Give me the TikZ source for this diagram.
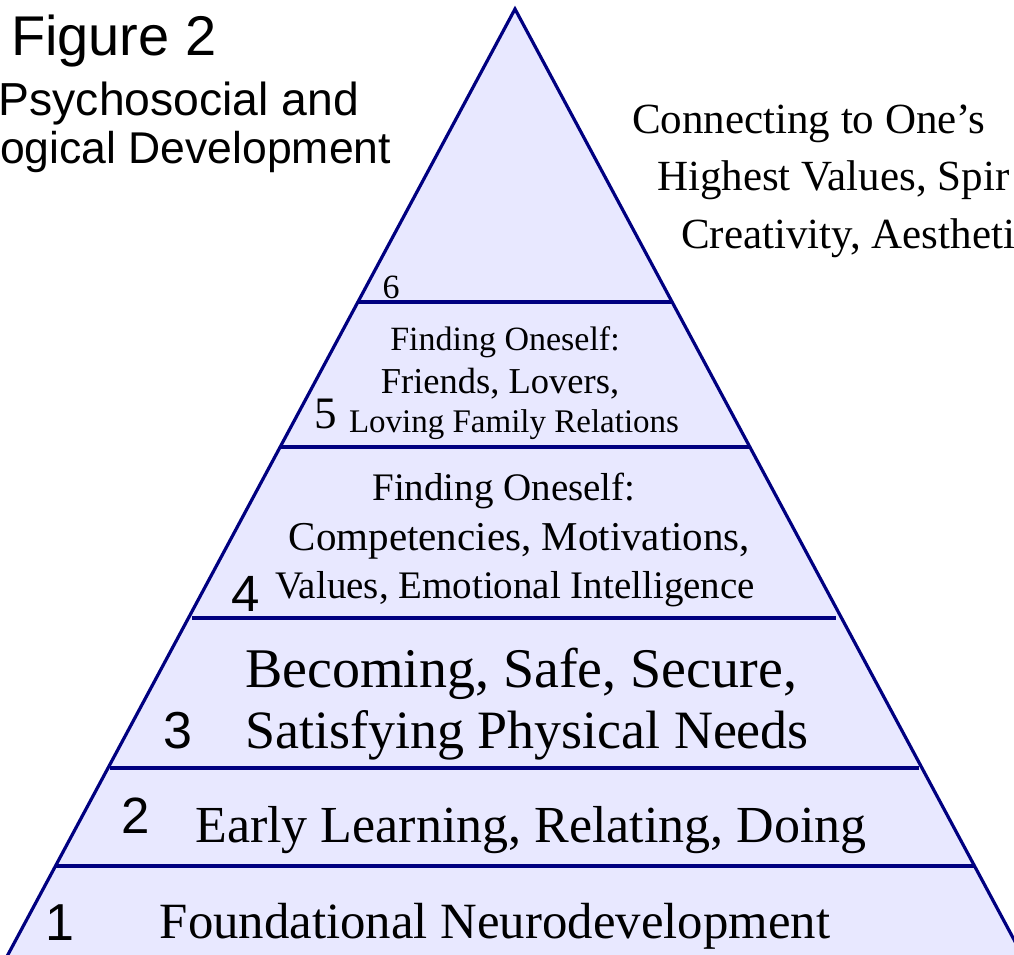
\documentclass[tikz,border=0pt]{standalone}
\usepackage{fontspec}
\setmainfont{Liberation Serif}
\newfontfamily\arialf{Liberation Sans}
\definecolor{navyline}{RGB}{0,0,128}
\definecolor{pyrfill}{RGB}{232,232,255}
\newcommand\fsz[1]{\fontsize{#1}{#1}\selectfont}
\begin{document}
\begin{tikzpicture}[x=1pt,y=-1pt,
  lbl/.style={inner sep=0pt, outer sep=0pt, anchor=base},
  lblw/.style={inner sep=0pt, outer sep=0pt, anchor=base west},
  lble/.style={inner sep=0pt, outer sep=0pt, anchor=base east},
  edgeline/.style={draw=navyline, line width=3.2pt}]
\useasboundingbox (0,0) rectangle (1014,954);
\clip (0,0) rectangle (1014,954);
% pyramid
\coordinate (apex) at (515,9);
\coordinate (bl) at (4,962);
\coordinate (br) at (1026,962);
\fill[pyrfill] (apex) -- (bl) -- (br) -- cycle;
\coordinate (l6) at (358,302);   \coordinate (r6) at (672,302);
\coordinate (l5) at (280,447);   \coordinate (r5) at (750,447);
\coordinate (l4) at (192,618);   \coordinate (r4) at (836,618);
\coordinate (l3) at (110,768);   \coordinate (r3) at (919,768);
\coordinate (l2) at (56,866);    \coordinate (r2) at (975,866);
\draw[edgeline] (l6) -- (r6);
\draw[edgeline] (l5) -- (r5);
\draw[edgeline] (l4) -- (r4);
\draw[edgeline] (l3) -- (r3);
\draw[edgeline] (l2) -- (r2);
\draw[edgeline, line join=miter] (bl) -- (apex) -- (br);
% title
\node[lblw] (fig) at (11,55) {\arialf\fsz{56}Figure 2};
\node[lble] (psy) at (359,115) {\arialf\fsz{46.3}Psychosocial and};
\node[lble] (bio) at (391,163) {\arialf\fsz{44.5}ogical Development};
% right text
\node[lblw] (c1) at (632,133) {\fsz{43}Connecting to One’s};
\node[lblw] (c2) at (657,190) {\fsz{43}Highest Values, Spir};
\node[lblw] (c3) at (681,248) {\fsz{43}Creativity, Aestheti};
% level 6
\node[lbl] (n6) at (391,298) {\fsz{34}6};
% level 5
\node[lbl] (n5) at (326,428) {\fsz{45}5};
\node[lbl] (t5a) at (505,350) {\fsz{34}Finding Oneself:};
\node[lbl] (t5b) at (500,393) {\fsz{36.5}Friends, Lovers,};
\node[lbl] (t5c) at (514,432) {\fsz{33}Loving Family Relations};
% level 4
\node[lbl] (n4) at (245.5,611) {\arialf\fsz{51}4};
\node[lbl] (t4a) at (504,500) {\fsz{39}Finding Oneself:};
\node[lbl] (t4b) at (519.5,550) {\fsz{41}Competencies, Motivations,};
\node[lbl] (t4c) at (515,598) {\fsz{39}Values, Emotional Intelligence};
% level 3
\node[lbl] (n3) at (177.5,748) {\arialf\fsz{52}3};
\node[lblw] (t3a) at (245,687) {\fsz{56}Becoming, Safe, Secure,};
\node[lblw] (t3b) at (245,748) {\fsz{54}Satisfying Physical Needs};
% level 2
\node[lbl] (n2) at (136,833) {\arialf\fsz{51}2};
\node[lbl] (t2) at (531,842) {\fsz{52}Early Learning, Relating, Doing};
% level 1
\node[lbl] (n1) at (60,940) {\arialf\fsz{52}1};
\node[lbl] (t1) at (495,938) {\fsz{50.8}Foundational Neurodevelopment};
\end{tikzpicture}
\end{document}
